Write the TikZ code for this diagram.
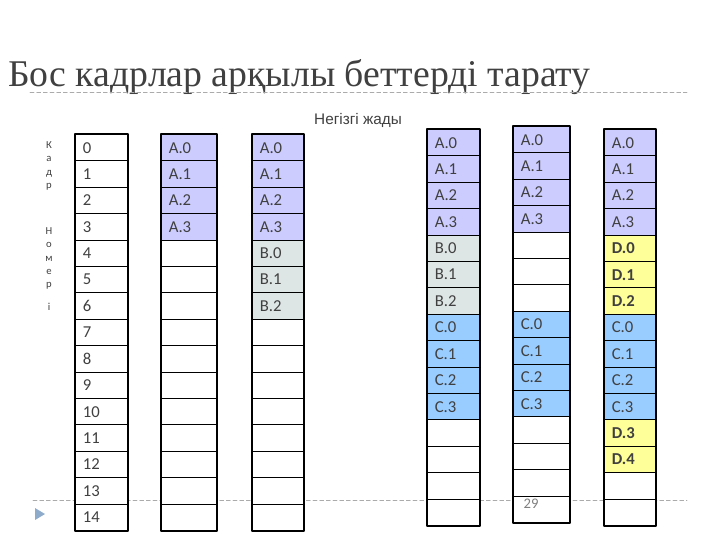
\documentclass[tikz,border=0pt]{standalone}
\usepackage{fontspec}
\setmainfont{Carlito}
\newfontfamily\titlefont{Liberation Serif}
\newfontfamily\notefont{Liberation Sans}
\definecolor{ccccff}{rgb}{0.8,0.8,1}
\definecolor{dde6e6}{rgb}{0.87,0.9,0.9}
\definecolor{99ccff}{rgb}{0.6,0.8,1}
\definecolor{ffff99}{rgb}{1,1,0.6}
\definecolor{aaaaaa}{rgb}{0.67,0.67,0.67}
\definecolor{404040}{rgb}{0.25,0.25,0.25}
\definecolor{8eaacc}{rgb}{0.56,0.67,0.8}
\tikzset{cell/.style={draw=black,line width=0.7pt,inner xsep=5.5pt,inner ysep=0pt,
    minimum height=19.8pt,anchor=north west,align=left,text=404040,
    font=\fontsize{12.5}{13}\selectfont}}
% one column of frames: name, left, top, text width, entries
\newcommand{\memcol}[5]{%
  \foreach \txt/\clr [count=\i from 0] in {#5}
    \node[cell,fill=\clr,text width=#4] (#1\i) at (#2,#3+26.4*\i) {\txt};
  \draw[line width=1.8pt] (#10.north west) rectangle (#114.south east);
}

\begin{document}
\begin{tikzpicture}[line cap=round,line join=round,x=0.75pt,y=-0.75pt]
    \useasboundingbox (0,0) rectangle (720,540);
    \node[anchor=base west,inner sep=0pt,text=404040,font=\titlefont\fontsize{28.3}{32}\selectfont] (title) at (8,86) {Бос кадрлар арқылы беттерді тарату};
    \draw[aaaaaa,dash pattern=on 3pt off 2pt] (30,92) -- (687,92);
    \draw[aaaaaa,dash pattern=on 3pt off 2pt] (33,500) -- (687,500);
    \fill[8eaacc] (35,508) -- (45,514) -- (35,520) -- cycle;
    \node[text=404040,font=\notefont\fontsize{11.5}{13}\selectfont] (zhady) at (358,120) {Негізгі жады};
    \node[anchor=north,align=center,text=404040,font=\fontsize{8}{10}\selectfont] (kadr) at (49,137) {К\\а\\д\\р};
    \node[anchor=north,align=center,text=404040,font=\fontsize{8}{10}\selectfont] (nomer) at (49,223) {Н\\о\\м\\е\\р\\[7pt]і};
    \memcol{f}{75}{134}{28pt}{0/white,1/white,2/white,3/white,4/white,5/white,6/white,7/white,8/white,9/white,10/white,11/white,12/white,13/white,14/white}
    \memcol{p}{161}{134}{30.25pt}{A.0/ccccff,A.1/ccccff,A.2/ccccff,A.3/ccccff,{}/white,{}/white,{}/white,{}/white,{}/white,{}/white,{}/white,{}/white,{}/white,{}/white,{}/white}
    \memcol{q}{252}{134}{27.25pt}{A.0/ccccff,A.1/ccccff,A.2/ccccff,A.3/ccccff,B.0/dde6e6,B.1/dde6e6,B.2/dde6e6,{}/white,{}/white,{}/white,{}/white,{}/white,{}/white,{}/white,{}/white}
    \memcol{r}{427}{129}{28pt}{A.0/ccccff,A.1/ccccff,A.2/ccccff,A.3/ccccff,B.0/dde6e6,B.1/dde6e6,B.2/dde6e6,C.0/99ccff,C.1/99ccff,C.2/99ccff,C.3/99ccff,{}/white,{}/white,{}/white,{}/white}
    \memcol{s}{513}{126}{31pt}{A.0/ccccff,A.1/ccccff,A.2/ccccff,A.3/ccccff,{}/white,{}/white,{}/white,C.0/99ccff,C.1/99ccff,C.2/99ccff,C.3/99ccff,{}/white,{}/white,{}/white,{}/white}
    \memcol{t}{604}{129}{27.25pt}{A.0/ccccff,A.1/ccccff,A.2/ccccff,A.3/ccccff,\textbf{D.0}/ffff99,\textbf{D.1}/ffff99,\textbf{D.2}/ffff99,C.0/99ccff,C.1/99ccff,C.2/99ccff,C.3/99ccff,\textbf{D.3}/ffff99,\textbf{D.4}/ffff99,{}/white,{}/white}
    \node[text=gray,font=\fontsize{11}{12}\selectfont] (page) at (531,504) {29};
\end{tikzpicture}
\end{document}
